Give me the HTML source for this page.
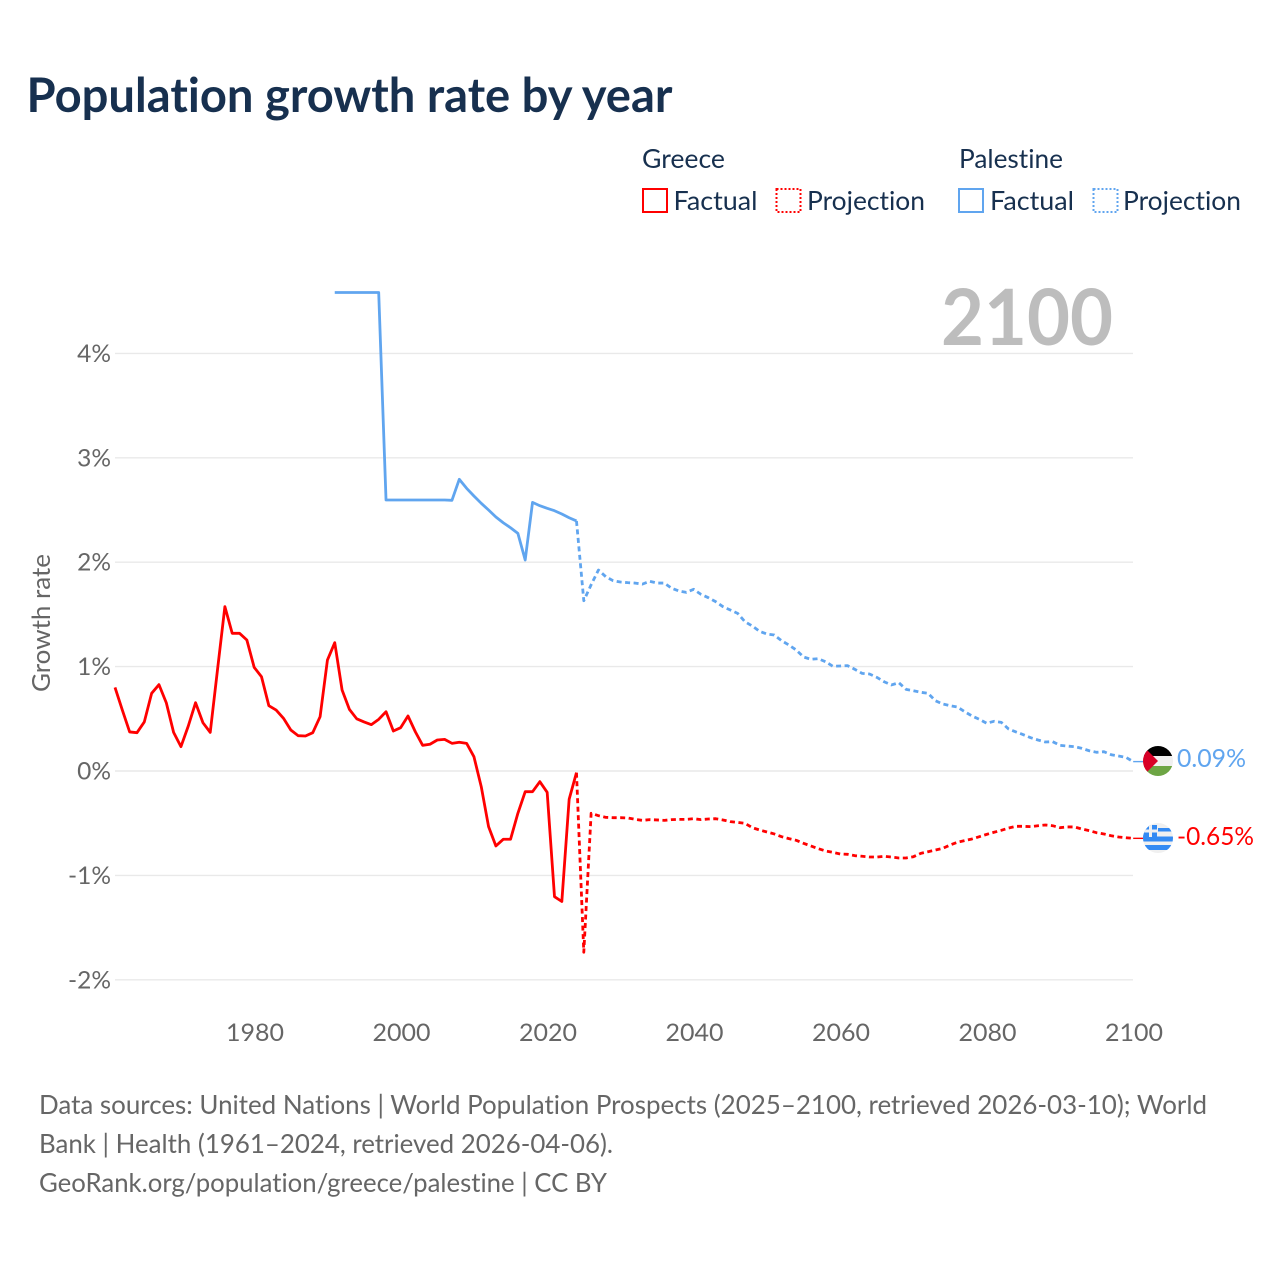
<!DOCTYPE html>
<html lang="en">
<head>
<meta charset="utf-8">
<title>Population growth rate by year</title>
<style>
html,body{margin:0;padding:0;background:#fff;width:1280px;height:1280px;overflow:hidden}
svg{display:block}
text{font-family:"Lato","Carlito","Liberation Sans",sans-serif;font-variant-ligatures:none;font-feature-settings:"liga" 0,"clig" 0}
</style>
</head>
<body>
<svg id="chart" xmlns="http://www.w3.org/2000/svg" width="1280" height="1280" viewBox="0 0 1280 1280">
  <defs>
    <clipPath id="flag-clip-ps"><circle cx="1158" cy="761" r="15"/></clipPath>
    <clipPath id="flag-clip-gr"><circle cx="1158" cy="838" r="15"/></clipPath>
  </defs>
  <rect width="1280" height="1280" fill="#fff"/>
  <text x="26.5" y="112" font-size="47.5" font-weight="700" fill="#17304f" textLength="646" lengthAdjust="spacingAndGlyphs">Population growth rate by year</text>

  <g font-size="26" fill="#17304f">
    <text x="642" y="168" textLength="83" lengthAdjust="spacingAndGlyphs">Greece</text>
    <text x="959" y="168" textLength="104" lengthAdjust="spacingAndGlyphs">Palestine</text>
    <rect x="643" y="189" width="24" height="23" fill="none" stroke="#ff0000" stroke-width="2"/>
    <text x="673.5" y="210" textLength="84" lengthAdjust="spacingAndGlyphs">Factual</text>
    <rect x="776.5" y="189" width="24" height="23" fill="none" stroke="#ff0000" stroke-width="2" stroke-dasharray="2 2"/>
    <text x="807" y="210" textLength="118" lengthAdjust="spacingAndGlyphs">Projection</text>
    <rect x="959" y="189" width="24" height="23" fill="none" stroke="#60a5ef" stroke-width="2"/>
    <text x="990" y="210" textLength="84" lengthAdjust="spacingAndGlyphs">Factual</text>
    <rect x="1093.5" y="189" width="24" height="23" fill="none" stroke="#60a5ef" stroke-width="2" stroke-dasharray="2 2"/>
    <text x="1123" y="210" textLength="118" lengthAdjust="spacingAndGlyphs">Projection</text>
  </g>

  <g id="grid"></g>
  <text x="941" y="345" font-size="78" font-weight="700" fill="#bdbdbd" textLength="172" lengthAdjust="spacingAndGlyphs">2100</text>
  <g id="yticks"></g>
  <g id="xticks"></g>
  <text transform="translate(50,623) rotate(-90)" text-anchor="middle" font-size="25" fill="#666666" textLength="138" lengthAdjust="spacingAndGlyphs">Growth rate</text>
  <g id="series"></g>

  <g clip-path="url(#flag-clip-ps)">
    <rect x="1143" y="746" width="30" height="10" fill="#000000"/>
    <rect x="1143" y="756" width="30" height="10" fill="#f0f0f0"/>
    <rect x="1143" y="766" width="30" height="10" fill="#6da544"/>
    <polygon points="1143,746 1158,761 1143,776" fill="#d80027"/>
  </g>
  <g clip-path="url(#flag-clip-gr)">
    <rect x="1143" y="823" width="30" height="30" fill="#f0f0f0"/>
    <rect x="1158" y="828" width="15" height="3.5" fill="#338af3"/>
    <rect x="1143" y="836.5" width="30" height="5" fill="#338af3"/>
    <rect x="1143" y="845" width="30" height="5" fill="#338af3"/>
    <rect x="1143" y="825" width="14" height="12" fill="#338af3"/>
    <rect x="1143" y="829.5" width="14" height="3" fill="#f0f0f0"/>
    <rect x="1149" y="825" width="3" height="12" fill="#f0f0f0"/>
  </g>
  <text id="label-ps" x="1177" y="767" font-size="25" fill="#60a5ef" textLength="69" lengthAdjust="spacingAndGlyphs">0.09%</text>
  <text id="label-gr" x="1177" y="845" font-size="25" fill="#ff0000" textLength="77" lengthAdjust="spacingAndGlyphs">-0.65%</text>

  <g font-size="26.5" fill="#666666">
    <text x="39" y="1114" textLength="1168" lengthAdjust="spacingAndGlyphs">Data sources: United Nations | World Population Prospects (2025–2100, retrieved 2026-03-10); World</text>
    <text x="39" y="1153" textLength="574" lengthAdjust="spacingAndGlyphs">Bank | Health (1961–2024, retrieved 2026-04-06).</text>
    <text x="39" y="1192" textLength="568" lengthAdjust="spacingAndGlyphs">GeoRank.org/population/greece/palestine | CC BY</text>
  </g>
</svg>
<script>
const yTickValues = [4, 3, 2, 1, 0, -1, -2];
const xTickYears = [1980, 2000, 2020, 2040, 2060, 2080, 2100];

// Greece, factual 1961-2024
const greeceFactualStart = 1961;
const greeceFactual = [0.80,0.584,0.374,0.367,0.47,0.744,0.827,0.654,0.37,0.233,
0.43,0.654,0.463,0.37,0.974,1.574,1.319,1.319,1.255,0.993,
0.903,0.626,0.584,0.505,0.393,0.338,0.335,0.367,0.52,1.063,
1.229,0.776,0.59,0.50,0.47,0.444,0.495,0.568,0.383,0.415,
0.527,0.376,0.246,0.256,0.297,0.303,0.265,0.275,0.265,0.137,
-0.15,-0.533,-0.718,-0.654,-0.654,-0.405,-0.198,-0.198,-0.102,-0.204,
-1.204,-1.25,-0.271,-0.016];

// Greece, projection 2024-2100
const greeceProjectionStart = 2024;
const greeceProjection = [-0.016,-1.736,-0.405,-0.428,-0.444,-0.447,-0.447,-0.45,-0.463,-0.473,
-0.466,-0.469,-0.473,-0.466,-0.463,-0.463,-0.457,-0.466,-0.46,-0.457,
-0.469,-0.485,-0.492,-0.501,-0.543,-0.565,-0.584,-0.603,-0.629,-0.648,
-0.664,-0.693,-0.718,-0.744,-0.766,-0.779,-0.795,-0.798,-0.811,-0.817,
-0.824,-0.824,-0.817,-0.824,-0.833,-0.833,-0.821,-0.789,-0.773,-0.757,
-0.741,-0.709,-0.683,-0.667,-0.651,-0.629,-0.607,-0.587,-0.568,-0.546,
-0.53,-0.53,-0.533,-0.524,-0.517,-0.524,-0.543,-0.536,-0.536,-0.556,
-0.571,-0.591,-0.603,-0.62,-0.632,-0.639,-0.645];

// Palestine, factual 1991-2024
const palestineFactualStart = 1991;
const palestineFactual = [4.583,4.583,4.583,4.583,4.583,4.583,4.583,2.596,2.596,2.596,
2.596,2.596,2.596,2.596,2.596,2.596,2.593,2.794,2.708,2.634,
2.564,2.50,2.433,2.378,2.33,2.276,2.021,2.573,2.541,2.516,
2.493,2.462,2.426,2.395];

// Palestine, projection 2024-2100
const palestineProjectionStart = 2024;
const palestineProjection = [2.395,1.631,1.784,1.925,1.861,1.823,1.81,1.804,1.80,1.79,
1.817,1.80,1.80,1.75,1.724,1.711,1.74,1.692,1.66,1.622,
1.574,1.542,1.51,1.43,1.389,1.338,1.312,1.303,1.248,1.207,
1.159,1.092,1.07,1.076,1.047,1.003,1.006,1.009,0.974,0.935,
0.929,0.897,0.855,0.824,0.846,0.782,0.769,0.754,0.744,0.673,
0.642,0.626,0.613,0.568,0.527,0.495,0.457,0.476,0.466,0.402,
0.374,0.348,0.319,0.297,0.278,0.281,0.246,0.239,0.233,0.217,
0.194,0.179,0.185,0.156,0.144,0.131,0.09];

const NS = 'http://www.w3.org/2000/svg';
function xScale(year){ return 115 + (year - 1961) * 7.325; }
function yScale(v){ return 771 - v * 104.4; }
function make(tag, attrs, parent){
  const el = document.createElementNS(NS, tag);
  for (const k in attrs) el.setAttribute(k, attrs[k]);
  parent.appendChild(el);
  return el;
}
function linePath(start, values){
  return values.map((v,i)=>(i?'L':'M')+xScale(start+i).toFixed(2)+' '+yScale(v).toFixed(2)).join(' ');
}

const gridG = document.getElementById('grid');
const yG = document.getElementById('yticks');
yTickValues.forEach(v=>{
  const line = make('line',{x1:115,x2:1133,y1:yScale(v),y2:yScale(v),stroke:'#e9e9e9','stroke-width':1.4},gridG);
  
  
  const t = make('text',{x:111,y:yScale(v)+8.5,'text-anchor':'end','font-size':24.5,fill:'#666666'},yG);
  
  
  t.textContent = v + '%';
});

const xG = document.getElementById('xticks');
xTickYears.forEach(y=>{
  const t = make('text',{x:xScale(y)+0.8,y:1041,'text-anchor':'middle','font-size':24.5,fill:'#666666',textLength:58,lengthAdjust:'spacingAndGlyphs'},xG);
  
  
  t.textContent = y;
});

const seriesG = document.getElementById('series');
function drawLine(start, values, color, dashed, name){
  const p = make('path',{d:linePath(start,values),fill:'none',stroke:color,'stroke-width':2.8,'stroke-linejoin':'round'},seriesG);
  if (dashed) p.setAttribute('stroke-dasharray','5 3.5');
  
  
}
drawLine(greeceFactualStart, greeceFactual, '#ff0000', false, 'line-greece-factual');
drawLine(greeceProjectionStart, greeceProjection, '#ff0000', true, 'line-greece-projection');
drawLine(palestineFactualStart, palestineFactual, '#60a5ef', false, 'line-palestine-factual');
drawLine(palestineProjectionStart, palestineProjection, '#60a5ef', true, 'line-palestine-projection');

function drawConnector(v, color, name){
  const y = yScale(v);
  const c = make('line',{x1:xScale(2100),x2:1144,y1:y,y2:y,stroke:color,'stroke-width':1.4},seriesG);
  
  
}
drawConnector(palestineProjection[palestineProjection.length-1], '#60a5ef', 'connector-palestine');
drawConnector(greeceProjection[greeceProjection.length-1], '#ff0000', 'connector-greece');
</script>
</body>
</html>
